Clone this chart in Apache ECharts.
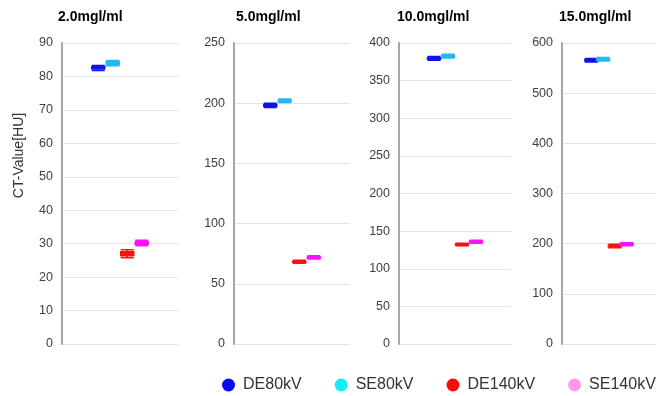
<!DOCTYPE html>
<html>
<head>
<meta charset="utf-8">
<script src="https://cdn.jsdelivr.net/npm/echarts@6/dist/echarts.min.js"></script>
<style>html,body{margin:0;padding:0;background:#fff;}#c{width:656px;height:396px;}</style>
</head>
<body>
<div id="c"></div>
<script>
// ---- data ----
const panelTitles = ['2.0mgl/ml', '5.0mgl/ml', '10.0mgl/ml', '15.0mgl/ml'];
const categories = ['DE80kV', 'SE80kV', 'DE140kV', 'SE140kV'];
const yMax = [90, 250, 400, 600];
const yInterval = [10, 50, 50, 100];
// [min, Q1, median, Q3, max] per category
const panel1 = [[81.8, 82.3, 82.6, 82.9, 83.3], [83.2, 83.5, 84.0, 84.5, 84.8], [25.8, 26.4, 27.0, 27.6, 28.2], [29.4, 29.8, 30.2, 30.6, 31.0]];
const panel2 = [[196.5, 197.5, 198.3, 199.0, 200.0], [200.5, 201.5, 202.0, 202.5, 203.5], [67.0, 67.8, 68.3, 68.8, 69.5], [70.5, 71.3, 71.8, 72.3, 73.2]];
const panel3 = [[377.0, 378.5, 379.5, 380.5, 382.0], [380.0, 381.5, 382.5, 383.5, 385.0], [130.5, 131.5, 132.3, 133.0, 134.0], [134.0, 135.0, 136.0, 137.0, 138.0]];
const panel4 = [[562.0, 564.0, 565.5, 567.0, 569.0], [564.0, 566.0, 567.5, 569.0, 571.0], [192.0, 194.0, 195.5, 197.0, 199.0], [196.0, 197.5, 199.0, 200.5, 202.0]];
const panels = [panel1, panel2, panel3, panel4];

// ---- styles ----
const markColors = ['#1010f0', '#22b8f0', '#ff1010', '#ff10ff'];
const legendColors = ['#0a0af0', '#10f0f0', '#ff0a0a', '#ff99ee'];
const gridLefts = [62, 234, 399, 562];
const gridWidths = [116, 116, 112, 116];
const slots = ['p0', 'p1'].concat(categories, ['p2', 'p3']);

const chart = echarts.init(document.getElementById('c'));
const grids = [], xAxes = [], yAxes = [], series = [], titles = [];
const titleLefts = [58, 236, 397, 559];

panels.forEach((pdata, i) => {
  grids.push({left: gridLefts[i], width: gridWidths[i], top: 43, bottom: 52});
  xAxes.push({type: 'category', gridIndex: i, data: slots,
    axisLine: {show: false}, axisTick: {show: false}, axisLabel: {show: false}, splitLine: {show: false}});
  yAxes.push({type: 'value', gridIndex: i, min: 0, max: yMax[i], interval: yInterval[i],
    name: i === 0 ? 'CT-Value[HU]' : '', nameLocation: 'middle', nameGap: 36, nameRotate: 90,
    nameTextStyle: {fontSize: 14, color: '#333', fontFamily: 'Liberation Sans', padding: [0, 0, 0, 76]},
    axisLine: {show: true, lineStyle: {color: '#a6a6a6', width: 2}},
    axisTick: {show: false},
    axisLabel: {fontSize: 12.5, color: '#404040', margin: 9, fontFamily: 'Liberation Sans'},
    splitLine: {show: true, lineStyle: {color: '#e3e3e3', width: 1}}});
  series.push({type: 'boxplot', xAxisIndex: i, yAxisIndex: i, boxWidth: [13, 13],
    encode: {x: 0, y: [1, 2, 3, 4, 5]},
    data: pdata.map((v, k) => ({value: [k + 2].concat(v),
      itemStyle: {color: markColors[k], borderColor: markColors[k], borderWidth: 1.5}})),
    silent: true});
  titles.push({text: panelTitles[i], left: titleLefts[i], top: 10, padding: 0,
    textStyle: {fontSize: 14, fontWeight: 'bold', color: '#000', fontFamily: 'Liberation Sans'}});
});

categories.forEach((c, k) => {
  series.push({type: 'scatter', name: c, xAxisIndex: 0, yAxisIndex: 0, data: [],
    itemStyle: {color: legendColors[k], opacity: 1}});
});

chart.setOption({
  animation: false,
  title: titles,
  grid: grids,
  xAxis: xAxes,
  yAxis: yAxes,
  legend: {left: 217, top: 372, width: 520, orient: 'horizontal', icon: 'circle', itemWidth: 13, itemHeight: 13, itemGap: 33,
    data: categories.map((c, k) => ({name: c, itemStyle: {color: legendColors[k], opacity: 1}})),
    textStyle: {fontSize: 16, color: '#333', fontFamily: 'Liberation Sans', padding: [0, 0, 0, 3]}},
  series: series
});
</script>
</body>
</html>
